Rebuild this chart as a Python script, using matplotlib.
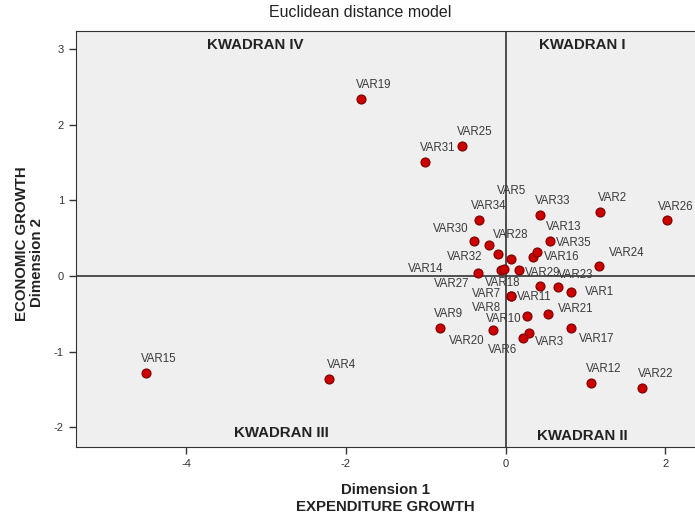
import matplotlib
matplotlib.use("Agg")
import matplotlib.pyplot as plt

# MDS stimulus coordinates (Euclidean distance model)
names = ["VAR%d" % i for i in range(1, 36)]
dim1 = [0.821, 1.175, 0.288, -2.213, 0.063, 0.216, 0.063, 0.070, -0.825, 0.270,
        0.425, 1.063, 0.559, -0.346, -4.504, 0.338, 0.821, -0.054, -1.813, -0.159,
        0.529, 1.713, 0.654, 1.163, -0.550, 2.025, -0.020, -0.209, 0.166, -0.396,
        -1.013, -0.096, 0.425, -0.338, 0.391]
dim2 = [-0.214, 0.843, -0.749, -1.361, 0.222, -0.815, -0.263, -0.270, -0.683, -0.534,
        -0.131, -1.414, 0.468, 0.037, -1.286, 0.246, -0.690, 0.081, 2.342, -0.713,
        -0.505, -1.480, -0.140, 0.134, 1.721, 0.742, 0.094, 0.411, 0.074, 0.464,
        1.509, 0.292, 0.808, 0.742, 0.323]

# label placement around each point (pixels right, pixels down)
label_offsets = {
    "VAR1": (28, 0), "VAR3": (21, 9), "VAR5": (1, -68), "VAR6": (-20, 12),
    "VAR7": (-24, -2), "VAR8": (-25, 12), "VAR9": (9, -14), "VAR10": (-23, 3),
    "VAR11": (-5, 11), "VAR14": (-52, -4), "VAR16": (29, 0), "VAR17": (25, 11),
    "VAR18": (1, 13), "VAR20": (-26, 11), "VAR21": (28, -5), "VAR23": (18, -12),
    "VAR24": (28, -13), "VAR26": (8, -13), "VAR27": (-52, 15), "VAR28": (22, -10),
    "VAR29": (24, 3), "VAR30": (-23, -12), "VAR32": (-33, 3), "VAR34": (10, -14),
    "VAR35": (37, -9),
}
default_offset = (13, -14)

quadrants = ["KWADRAN IV", "KWADRAN I", "KWADRAN III", "KWADRAN II"]

bold_font = ["Liberation Sans Narrow", "Liberation Sans", "DejaVu Sans"]
plt.rcParams["font.family"] = ["Liberation Sans", "DejaVu Sans"]
plt.rcParams["axes.unicode_minus"] = False

fig = plt.figure(figsize=(6.95, 5.19), dpi=100)
ax = fig.add_axes([0.1089, 0.1382, 0.8911, 0.8021])
ax.set_facecolor("#efefef")

ax.axhline(0, color="#333333", lw=1.2, zorder=1)
ax.axvline(0, color="#333333", lw=1.2, zorder=1)

ax.scatter(dim1, dim2, s=42, color="#cc0000", edgecolor="#7a0000", linewidth=0.8, zorder=3)

for name, x, y in zip(names, dim1, dim2):
    dx, dy = label_offsets.get(name, default_offset)
    ax.annotate(name, (x, y), xytext=(dx, -dy), textcoords="offset pixels",
                ha="center", va="center", fontsize=8.3, color="#3a3a3a",
                zorder=4, annotation_clip=False)

ax.set_xlim(-5.38, 2.37)
ax.set_ylim(-2.265, 3.24)
ax.set_xticks([-4, -2, 0, 2])
ax.set_yticks([-2, -1, 0, 1, 2, 3])
ax.tick_params(direction="out", length=5, width=1, colors="#333333", labelsize=8)
for s in ["left", "bottom", "top"]:
    ax.spines[s].set_color("#333333")
ax.spines["right"].set_visible(False)

quad_pos = [(0.2895, 0.966), (0.8175, 0.966), (0.3316, 0.034), (0.8175, 0.027)]
for q, (qx, qy) in zip(quadrants, quad_pos):
    ax.text(qx, qy, q, transform=ax.transAxes, ha="center", va="center",
            fontsize=10.8, fontweight="bold", family=bold_font, color="#222222")

fig.text(0.518, 0.976, "Euclidean distance model", ha="center", va="center",
         fontsize=11.5, color="#222222")
fig.text(0.554, 0.056, "Dimension 1", ha="center", va="center",
         fontsize=10.8, fontweight="bold", family=bold_font, color="#222222")
fig.text(0.554, 0.023, "EXPENDITURE GROWTH", ha="center", va="center",
         fontsize=10.8, fontweight="bold", family=bold_font, color="#222222")
fig.text(0.031, 0.531, "ECONOMIC GROWTH", ha="center", va="center", rotation=90,
         fontsize=10.8, fontweight="bold", family=bold_font, color="#222222")
fig.text(0.053, 0.495, "Dimension 2", ha="center", va="center", rotation=90,
         fontsize=10.8, fontweight="bold", family=bold_font, color="#222222")

fig.savefig("out.png", dpi=100)
